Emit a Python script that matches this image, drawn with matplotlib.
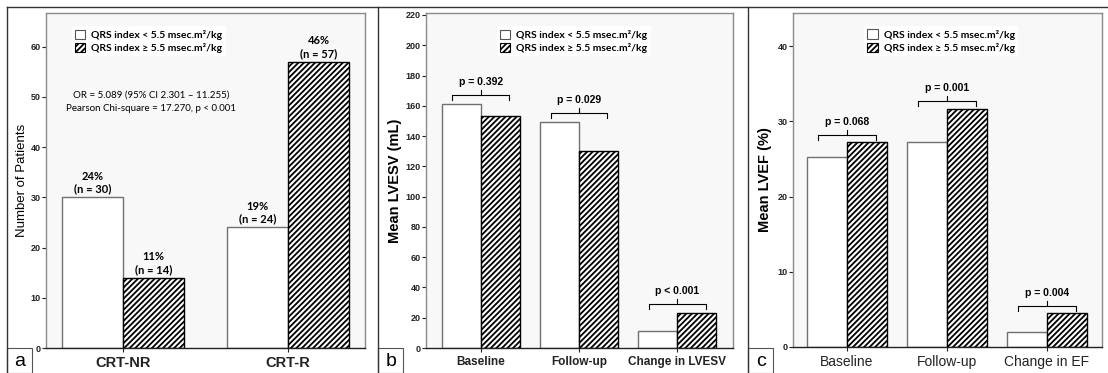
import numpy as np
import matplotlib
matplotlib.use("Agg")
import matplotlib.pyplot as plt
from matplotlib.patches import Patch, Rectangle
from matplotlib.lines import Line2D

# panel a - patient counts
groups_a = ["CRT-NR", "CRT-R"]
patients_low = [30, 24]
patients_high = [14, 57]
pct_low = ["24%", "19%"]
pct_high = ["11%", "46%"]

# panel b - LVESV
groups_b = ["Baseline", "Follow-up", "Change in LVESV"]
lvesv_low = [161, 149, 11]
lvesv_high = [153, 130, 23]
p_lvesv = ["p = 0.392", "p = 0.029", "p < 0.001"]

# panel c - LVEF
groups_c = ["Baseline", "Follow-up", "Change in EF"]
lvef_low = [25.3, 27.3, 2.0]
lvef_high = [27.2, 31.7, 4.5]
p_lvef = ["p = 0.068", "p = 0.001", "p = 0.004"]

leg_labels = ["QRS index < 5.5 msec.m\u00b2/kg", "QRS index \u2265 5.5 msec.m\u00b2/kg"]

W, H = 1108, 373
ARIAL = ["Liberation Sans", "DejaVu Sans"]
CALIBRI = ["Lato", "DejaVu Sans"]
plt.rcParams["hatch.linewidth"] = 1.3
plt.rcParams["font.family"] = ARIAL

fig = plt.figure(figsize=(W / 100, H / 100), dpi=100)


def px_axes(left, right, top, bottom):
    return fig.add_axes([left / W, (H - bottom) / H, (right - left) / W, (bottom - top) / H])


def fig_line(xs, ys, **kw):
    fig.add_artist(Line2D([x / W for x in xs], [(H - y) / H for y in ys],
                          transform=fig.transFigure, **kw))


def style_axes(ax, ymax, step):
    ax.set_facecolor("#f8f8f8")
    for s in ["top", "right", "left"]:
        ax.spines[s].set_color("#8a8a8a")
        ax.spines[s].set_linewidth(1.0)
    ax.spines["bottom"].set_color("#222222")
    ax.spines["bottom"].set_linewidth(1.0)
    ax.set_ylim(0, ymax)
    ax.set_yticks(np.arange(0, ymax, step))
    ax.tick_params(axis="y", length=3, width=0.8, pad=1, labelsize=6.5, colors="#222222")
    ax.tick_params(axis="x", length=3, width=0.8, pad=3, colors="#222222")
    for t in ax.get_yticklabels():
        t.set_fontweight("bold")


def draw_bars(ax, low, high, width):
    x = np.arange(len(low))
    ax.bar(x - width / 2, low, width, color="white", edgecolor="#707070", linewidth=1.0, zorder=2)
    ax.bar(x + width / 2, high, width, color="white", edgecolor="black", hatch="//////",
           linewidth=1.0, zorder=2)
    return x


def add_legend(ax, bx, by):
    handles = [Patch(facecolor="white", edgecolor="#555555", linewidth=0.8),
               Patch(facecolor="white", edgecolor="black", hatch="//////", linewidth=0.8)]
    leg = ax.legend(handles, leg_labels, loc="upper left", bbox_to_anchor=(bx, by),
                    frameon=True, facecolor="white", edgecolor="none", fancybox=False,
                    handlelength=1.0, handleheight=1.0, handletextpad=0.6,
                    labelspacing=0.3, borderpad=0.3, borderaxespad=0,
                    prop={"family": CALIBRI, "size": 7.5, "weight": "bold"})
    leg.get_frame().set_alpha(1)


def bracket(ax, xc, top, half, tick, label):
    ax.plot([xc - half, xc - half, xc + half, xc + half], [top - tick, top, top, top - tick],
            color="black", lw=0.8, zorder=3)
    ax.plot([xc, xc], [top, top + tick], color="black", lw=0.8, zorder=3)
    ax.text(xc, top + tick * 1.6, label, ha="center", va="bottom", fontsize=7.5,
            fontweight="bold", family=ARIAL)


# ---- panel a
ax_a = px_axes(46, 365, 13, 348)
xa = draw_bars(ax_a, patients_low, patients_high, 0.37)
style_axes(ax_a, 66.7, 10)
ax_a.set_xlim(-0.467, 1.467)
ax_a.set_xticks(xa)
ax_a.set_xticklabels(groups_a, fontsize=10.5, fontweight="bold")
ax_a.set_ylabel("Number of Patients", fontsize=9.5, labelpad=2)
for i in range(len(groups_a)):
    ax_a.annotate(f"{pct_low[i]}\n(n = {patients_low[i]})", (xa[i] - 0.185, patients_low[i]),
                  xytext=(0, 2), textcoords="offset points", ha="center", va="bottom",
                  fontsize=8, fontweight="bold", family=CALIBRI)
    ax_a.annotate(f"{pct_high[i]}\n(n = {patients_high[i]})", (xa[i] + 0.185, patients_high[i]),
                  xytext=(0, 2), textcoords="offset points", ha="center", va="bottom",
                  fontsize=8, fontweight="bold", family=CALIBRI)
ax_a.text(0.33, 0.735, "OR = 5.089 (95% CI 2.301 \u2013 11.255)\nPearson Chi-square = 17.270, p < 0.001",
          transform=ax_a.transAxes, ha="center", va="center", fontsize=7, family=CALIBRI,
          linespacing=1.6)
add_legend(ax_a, 0.08, 0.96)

# ---- panel b
ax_b = px_axes(426, 733, 13, 348)
xb = draw_bars(ax_b, lvesv_low, lvesv_high, 0.40)
style_axes(ax_b, 221.3, 20)
ax_b.set_xlim(-0.56, 2.57)
ax_b.set_xticks(xb)
ax_b.set_xticklabels(groups_b, fontsize=8.5, fontweight="bold")
ax_b.set_ylabel("Mean LVESV (mL)", fontsize=10.5, fontweight="bold", labelpad=2)
for i in range(len(groups_b)):
    bracket(ax_b, xb[i], max(lvesv_low[i], lvesv_high[i]) + 6, 0.29, 3.3, p_lvesv[i])
add_legend(ax_b, 0.23, 0.96)

# ---- panel c
ax_c = px_axes(793, 1102, 13, 347)
xc = draw_bars(ax_c, lvef_low, lvef_high, 0.40)
style_axes(ax_c, 44.4, 10)
ax_c.set_xlim(-0.54, 2.55)
ax_c.set_xticks(xc)
ax_c.set_xticklabels(groups_c, fontsize=10)
ax_c.set_ylabel("Mean LVEF (%)", fontsize=10.5, fontweight="bold", labelpad=4)
for i in range(len(groups_c)):
    bracket(ax_c, xc[i], max(lvef_low[i], lvef_high[i]) + 1.0, 0.29, 0.66, p_lvef[i])
add_legend(ax_c, 0.23, 0.96)

# panel frames and letter boxes
fig_line([7, W], [7, 7], color="#333333", lw=1.0)
for x0, letter in [(7, "a"), (378, "b"), (748, "c")]:
    fig_line([x0, x0], [7, H], color="#333333", lw=1.0)
    fig.add_artist(Rectangle((x0 / W, 0), 25 / W, 25.5 / H, transform=fig.transFigure,
                             facecolor="white", edgecolor="#555555", lw=0.8))
    fig.text((x0 + 13) / W, 12 / H, letter, ha="center", va="center", fontsize=14,
             family=ARIAL)

fig.savefig("out.png", dpi=100)
